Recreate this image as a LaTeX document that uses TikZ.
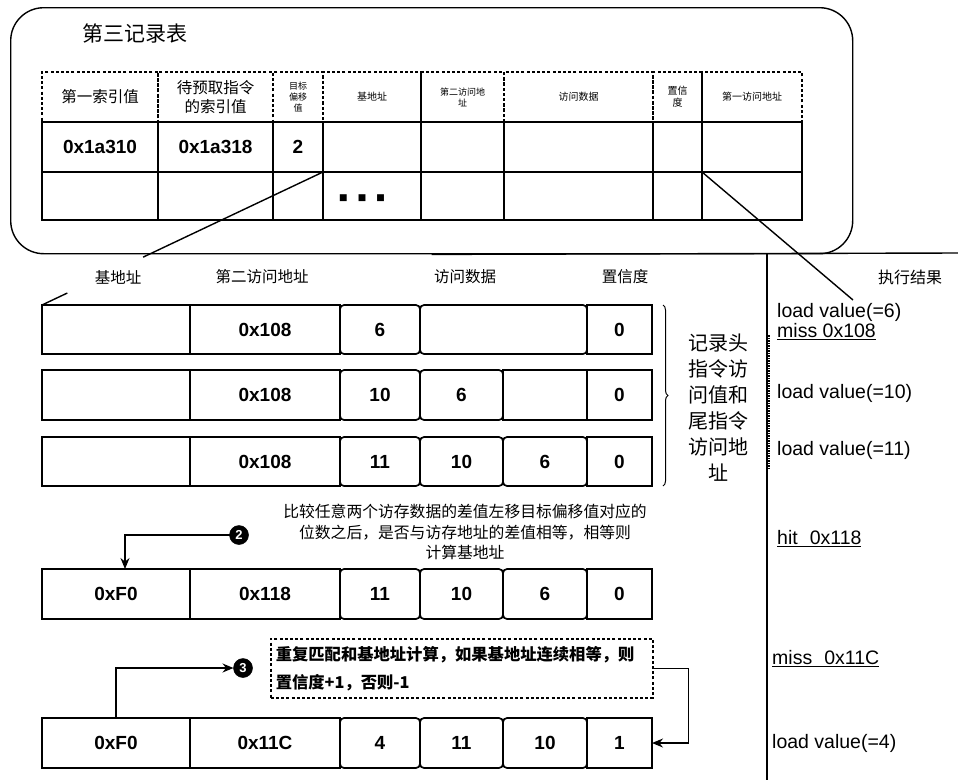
\documentclass[tikz,border=0pt]{standalone}
\usepackage{fontspec}
\setmainfont{Liberation Sans}
\newfontfamily\cjk{Noto Sans CJK SC}
\newfontfamily\djv{DejaVu Sans}
\usetikzlibrary{decorations.pathreplacing,arrows.meta,calc}
\newcommand\mycell[7]{\node[#6, minimum width={(#4)-(#2)}, minimum height={(#5)-(#3)}, anchor=north west] (#1) at (#2,#3) {#7};}
\begin{document}
\begin{tikzpicture}[x=1pt,y=-1pt,
  base/.style={inner sep=0pt, outer sep=0pt, line width=1.7pt, align=center},
  hdr/.style={base, draw, dash pattern=on 3pt off 2.2pt, font=\cjk\fontsize{10}{12}\selectfont},
  hdrbig/.style={hdr, font=\cjk\fontsize{15.5}{19}\selectfont},
  hdrsmall/.style={hdr, font=\cjk\fontsize{9}{11}\selectfont},
  dcell/.style={base, draw, font=\bfseries\fontsize{19}{21}\selectfont},
  rcell/.style={dcell, rounded corners=4pt},
  lbl/.style={font=\cjk\fontsize{15.5}{18}\selectfont, inner sep=1pt},
  res/.style={anchor=west, inner sep=0pt, font=\fontsize{19.5}{21}\selectfont},
  marker/.style={circle, draw=black, line width=0.5pt, fill=black, text=white, inner sep=0pt, outer sep=0pt, minimum size=19pt, font=\bfseries\fontsize{13}{13}\selectfont},
  arr/.style={line width=1.3pt, -{Stealth[length=11pt,width=9pt]}},
  conn/.style={line width=1.4pt}
]
\useasboundingbox (0,0) rectangle (958,780);

% outer rounded box
\node[draw, line width=1.4pt, rounded corners=33pt, minimum width=842pt, minimum height=246pt, anchor=north west, inner sep=0pt] (outer) at (10,7) {};
\coordinate (edgeR) at (958,253);
\draw[conn] (outer.south) -- (edgeR);
\coordinate (vtop) at (767,253);
\coordinate (vbot) at (767,780);
\draw[conn] (vtop) -- (vbot);
\coordinate (dtop) at (769,335);
\coordinate (dbot) at (769,470);
\draw[line width=1.5pt, dash pattern=on 1.5pt off 1pt] (dtop) -- (dbot);

\node[font=\cjk\fontsize{21}{24}\selectfont, anchor=west, inner sep=0pt] (title) at (82,33) {第三记录表};

% top table header
\mycell{h1}{42}{72}{158}{122}{hdrbig}{第一索引值}
\mycell{h2}{158}{72}{273}{122}{hdrbig}{待预取指令\\的索引值}
\mycell{h3}{273}{72}{323}{122}{hdrsmall}{目标\\偏移\\值}
\mycell{h4}{323}{72}{421}{122}{hdr}{基地址}
\mycell{h5}{421}{72}{504}{122}{hdrsmall}{第二访问地\\址}
\mycell{h6}{504}{72}{653}{122}{hdr}{访问数据}
\mycell{h7}{653}{72}{702}{122}{hdr}{置信\\度}
\mycell{h8}{702}{72}{802}{122}{hdr}{第一访问地址}
% row 1
\mycell{t11}{42}{122}{158}{172}{dcell}{0x1a310}
\mycell{t12}{158}{122}{273}{172}{dcell}{0x1a318}
\mycell{t13}{273}{122}{323}{172}{dcell}{2}
\mycell{t14}{323}{122}{421}{172}{dcell}{}
\mycell{t15}{421}{122}{504}{172}{dcell}{}
\mycell{t16}{504}{122}{653}{172}{dcell}{}
\mycell{t17}{653}{122}{702}{172}{dcell}{}
\mycell{t18}{702}{122}{802}{172}{dcell}{}
% row 2
\mycell{t21}{42}{172}{158}{220}{dcell}{}
\mycell{t22}{158}{172}{273}{220}{dcell}{}
\mycell{t23}{273}{172}{323}{220}{dcell}{}
\mycell{t24}{323}{172}{421}{220}{dcell}{}
\mycell{t25}{421}{172}{504}{220}{dcell}{}
\mycell{t26}{504}{172}{653}{220}{dcell}{}
\mycell{t27}{653}{172}{702}{220}{dcell}{}
\mycell{t28}{702}{172}{802}{220}{dcell}{}
\node[font=\djv\fontsize{9}{10}\selectfont, inner sep=0pt] (dots) at (362,198) {■\hspace{10pt}■\hspace{10pt}■};

% middle header labels
\node[lbl] (lb) at (118,277) {基地址};
\node[lbl] (ls) at (262,277) {第二访问地址};
\node[lbl] (ld) at (465,277) {访问数据};
\node[lbl] (lc) at (625,277) {置信度};
\node[lbl, font=\cjk\fontsize{16}{18}\selectfont] (lr) at (910,277) {执行结果};

% row A
\mycell{A1}{42}{305}{190}{354}{dcell}{}
\mycell{A2}{190}{305}{340}{354}{dcell}{0x108}
\mycell{A6}{587}{305}{652}{354}{dcell}{0}
\mycell{A3}{340}{305}{420}{354}{rcell}{6}
\mycell{A4}{420}{305}{587}{354}{rcell}{}
% row B
\mycell{B1}{42}{370}{190}{420}{dcell}{}
\mycell{B2}{190}{370}{340}{420}{dcell}{0x108}
\mycell{B6}{587}{370}{652}{420}{dcell}{0}
\mycell{B3}{340}{370}{420}{420}{rcell}{10}
\mycell{B4}{420}{370}{503}{420}{rcell}{6}
\mycell{B5}{503}{370}{587}{420}{dcell}{}
% row C
\mycell{C1}{42}{437}{190}{486}{dcell}{}
\mycell{C2}{190}{437}{340}{486}{dcell}{0x108}
\mycell{C6}{587}{437}{652}{486}{dcell}{0}
\mycell{C3}{340}{437}{420}{486}{rcell}{11}
\mycell{C4}{420}{437}{503}{486}{rcell}{10}
\mycell{C5}{503}{437}{587}{486}{rcell}{6}
% row D
\mycell{D1}{42}{569}{190}{619}{dcell}{0xF0}
\mycell{D2}{190}{569}{340}{619}{dcell}{0x118}
\mycell{D6}{587}{569}{652}{619}{dcell}{0}
\mycell{D3}{340}{569}{420}{619}{rcell}{11}
\mycell{D4}{420}{569}{503}{619}{rcell}{10}
\mycell{D5}{503}{569}{587}{619}{rcell}{6}
% row E
\mycell{E1}{42}{718}{190}{768}{dcell}{0xF0}
\mycell{E2}{190}{718}{340}{768}{dcell}{0x11C}
\mycell{E6}{587}{718}{652}{768}{dcell}{1}
\mycell{E3}{340}{718}{420}{768}{rcell}{4}
\mycell{E4}{420}{718}{503}{768}{rcell}{11}
\mycell{E5}{503}{718}{587}{768}{rcell}{10}

% brace and its text
\draw[line width=1pt, decorate, decoration={brace, amplitude=5pt}] (663,305) -- (663,486);
\node[align=center, font=\cjk\fontsize{20}{26}\selectfont, inner sep=0pt] (note) at (718,408) {记录头\\指令访\\问值和\\尾指令\\访问地\\址};

% connectors from the top table
\draw[conn] (t24.north west) -- ($(t24.north west)!0.64!(A1.north west)$);
\draw[conn] ($(t24.north west)!0.91!(A1.north west)$) -- (A1.north west);
\coordinate (tip6) at (853,300);
\draw[conn] (t28.north west) -- (tip6);

% results column
\node[res] (r1) at (777,312) {load value(=6)};
\node[res] (r2) at (777,332) {\underline{miss 0x108}};
\node[res] (r3) at (777,393) {load value(=10)};
\node[res] (r4) at (777,450) {load value(=11)};
\node[res] (r5) at (777,539) {\underline{hit\hspace{12pt}0x118}};
\node[res] (r6) at (772,659) {\underline{miss\hspace{12pt}0x11C}};
\node[res] (r7) at (772,743) {load value(=4)};

% comparison text and marker 2
\node[align=center, font=\cjk\fontsize{15.8}{20.5}\selectfont, inner sep=0pt] (cmp) at (465,532) {比较任意两个访存数据的差值左移目标偏移值对应的\\位数之后，是否与访存地址的差值相等，相等则\\计算基地址};
\node[marker] (m2) at (239,535) {2};
\draw[arr] (m2.west) -| ([xshift=9pt]D1.north);

% dashed note and marker 3
\node[draw, line width=1.6pt, dash pattern=on 3pt off 2.2pt, anchor=north west, minimum width=382pt, minimum height=59pt, text width=372pt, inner sep=4pt, align=left, font=\cjk\bfseries\fontsize{16.3}{28}\selectfont] (dbox) at (270,638) {重复匹配和基地址计算，如果基地址连续相等，则\\置信度+1，否则-1};
\node[marker] (m3) at (243,668) {3};
\draw[arr] (E1.north) |- (m3.west);
\draw[arr] (dbox.east) -- ++(35,0) |- (E6.east);
\end{tikzpicture}
\end{document}
